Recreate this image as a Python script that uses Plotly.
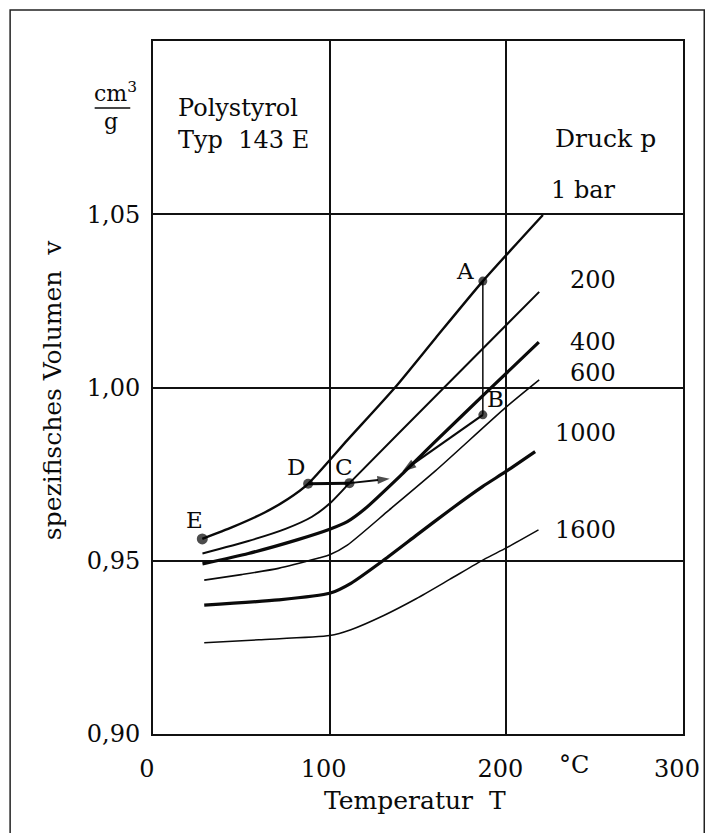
import plotly.graph_objects as go

# ---------------- data ----------------
T_1bar = [27.9, 44.9, 63.5, 76.6, 87.8, 110, 137, 160, 186.7, 220.7]
v_1bar = [0.9563, 0.9597, 0.9640, 0.9679, 0.9722, 0.9848, 1.0000, 1.0143, 1.0307, 1.0498]

T_200 = [28, 54, 75, 90, 100, 111.2, 164.8, 218.6]
v_200 = [0.9521, 0.9557, 0.9592, 0.9627, 0.9665, 0.9724, 1.0000, 1.0276]

T_400 = [28, 54, 82, 100, 110, 120, 140, 160, 189.5, 218.4]
v_400 = [0.9491, 0.9521, 0.9561, 0.9591, 0.9613, 0.9650, 0.9745, 0.9845, 0.9990, 1.0131]

T_600 = [29, 50, 71, 93.3, 100, 110, 133.6, 160, 200, 218.6]
v_600 = [0.9444, 0.9460, 0.9478, 0.9507, 0.9517, 0.9545, 0.9646, 0.9760, 0.9944, 1.0022]

T_1000 = [29, 71, 100, 112, 130.6, 149.2, 167.9, 186.5, 199.6, 216.3]
v_1000 = [0.9372, 0.9387, 0.9406, 0.9435, 0.9502, 0.9574, 0.9646, 0.9714, 0.9757, 0.9815]

T_1600 = [29, 60, 100, 112, 130.6, 149.2, 167.9, 187.4, 200, 218.2]
v_1600 = [0.9263, 0.9272, 0.9284, 0.9301, 0.9342, 0.9391, 0.9446, 0.9504, 0.9537, 0.9589]

pressure_labels = ["1 bar", "200", "400", "600", "1000", "1600"]

# process points A..E
point_names = ["A", "B", "C", "D", "E"]
point_T = [186.7, 186.7, 111.2, 87.8, 27.9]
point_v = [1.0307, 0.9921, 0.9724, 0.9722, 0.9563]

# path B -> junction, and D -> C -> junction
path_BJ_T = [186.7, 141.0]
path_BJ_v = [0.9921, 0.9757]
path_DC_T = [87.8, 111.2]
path_DC_v = [0.9722, 0.9724]
path_CJ_T = [111.2, 134.0]
path_CJ_v = [0.9724, 0.9737]

x_tick_vals = [0, 100, 200, 300]
x_tick_labels = ["0", "100", "200", "300"]
y_tick_vals = [0.90, 0.95, 1.00, 1.05]
y_tick_labels = ["0,90", "0,95", "1,00", "1,05"]

FONT = "DejaVu Serif"
FS = 24
INK = "#0a0a0a"

# ---------------- figure ----------------
fig = go.Figure()

curves = [
    (T_1bar, v_1bar, 2.4),
    (T_200, v_200, 2.0),
    (T_400, v_400, 3.2),
    (T_600, v_600, 1.6),
    (T_1000, v_1000, 3.2),
    (T_1600, v_1600, 1.5),
]
for (tx, vy, w), name in zip(curves, pressure_labels):
    fig.add_trace(go.Scatter(x=tx, y=vy, mode="lines", name=name,
                             line=dict(color=INK, width=w, shape="spline", smoothing=0.6),
                             showlegend=False, hoverinfo="skip"))

# A-B vertical line
fig.add_trace(go.Scatter(x=[point_T[0], point_T[1]], y=[point_v[0], point_v[1]], mode="lines",
                         line=dict(color=INK, width=1.5), showlegend=False))
# B -> junction with arrow head
fig.add_trace(go.Scatter(x=path_BJ_T, y=path_BJ_v, mode="lines+markers",
                         line=dict(color=INK, width=2.2),
                         marker=dict(symbol="arrow", angleref="previous", size=[0, 15],
                                     color="black", line=dict(width=0)),
                         showlegend=False))
fig.add_trace(go.Scatter(x=path_DC_T, y=path_DC_v, mode="lines",
                         line=dict(color=INK, width=3), showlegend=False))
# C -> junction with arrow head
fig.add_trace(go.Scatter(x=path_CJ_T, y=path_CJ_v, mode="lines+markers",
                         line=dict(color=INK, width=2),
                         marker=dict(symbol="arrow", angleref="previous", size=[0, 13],
                                     color="black", line=dict(width=0)),
                         showlegend=False))

fig.add_trace(go.Scatter(x=point_T, y=point_v, mode="markers",
                         marker=dict(color="black", size=[9, 9, 10, 10, 11],
                                     line=dict(width=0)), showlegend=False))

def ann(text, x, y, xref="x", yref="y", xanchor="center", yanchor="middle", size=FS, angle=0):
    fig.add_annotation(text=text, x=x, y=y, xref=xref, yref=yref, xanchor=xanchor,
                       yanchor=yanchor, showarrow=False, textangle=angle, borderpad=0,
                       font=dict(family=FONT, size=size, color=INK))

# point letters
letter_pos = [(176.8, 1.0335), (194.0, 0.9967), (108.3, 0.9772), (80.7, 0.9772), (23.5, 0.9619)]
for nm, (lx, ly) in zip(point_names, letter_pos):
    ann(nm, lx, ly, size=23)

# pressure labels (right aligned)
label_v = [1.0570, 1.0310, 1.0132, 1.0043, 0.9869, 0.9589]
for txt, ly in zip(pressure_labels, label_v):
    ann(txt, 262.5, ly, xanchor="right")
ann("Druck p", 256.3, 1.0720, xanchor="center", size=25)

# material text
ann("Polystyrol", 13.4, 1.0807, xanchor="left")
ann("Typ  143 E", 13.4, 1.0714, xanchor="left")

# unit degree C on x axis
ann("°C", 238.5, -0.0450, yref="paper")

# axis titles
def xp(px):
    return (px - 153) / 536.0

def yp(py):
    return (734 - py) / 693.0

ann("Temperatur  T", xp(418), yp(800), xref="paper", yref="paper", size=25)
ann("spezifisches Volumen  v", xp(51), yp(390), xref="paper", yref="paper", angle=-90, size=25)

# unit fraction cm3/g
ann("cm<sup>3</sup>", xp(115), yp(107), xref="paper", yref="paper", yanchor="bottom", size=22)
ann("g", xp(111), yp(108.5), xref="paper", yref="paper", yanchor="top", size=22)
fig.add_shape(type="line", xref="paper", yref="paper", x0=xp(94), x1=xp(130),
              y0=yp(108), y1=yp(108), line=dict(color=INK, width=1.5))

# outer frame
fig.add_shape(type="rect", xref="paper", yref="paper", x0=xp(8.5), x1=xp(710.5),
              y0=yp(845), y1=yp(10), line=dict(color="#222222", width=1.5))

fig.update_xaxes(range=[0, 300], tickvals=x_tick_vals, ticktext=x_tick_labels,
                 showgrid=True, gridcolor="#111111", gridwidth=1.5,
                 showline=True, linecolor="#111111", linewidth=2, mirror=True,
                 ticks="", zeroline=False, ticklabelshift=-6, ticklabelstandoff=12,
                 tickfont=dict(family=FONT, size=FS, color=INK))
fig.update_yaxes(range=[0.90, 1.10], tickvals=y_tick_vals, ticktext=y_tick_labels,
                 showgrid=True, gridcolor="#111111", gridwidth=1.5,
                 showline=True, linecolor="#111111", linewidth=2, mirror=True,
                 ticks="", zeroline=False, ticklabelstandoff=6,
                 tickfont=dict(family=FONT, size=FS, color=INK))

fig.update_layout(width=712, height=833, margin=dict(l=153, r=22, t=41, b=99, pad=0),
                  plot_bgcolor="white", paper_bgcolor="white", showlegend=False)

fig.write_html("out.html")
